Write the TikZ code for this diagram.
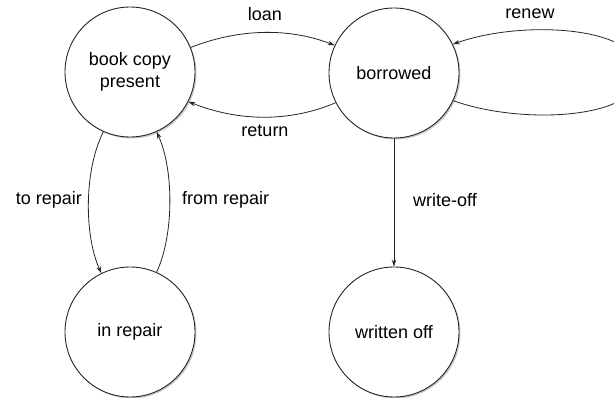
\documentclass[tikz,border=0pt]{standalone}
\usepackage{fontspec}
\setmainfont{Liberation Sans}
\usetikzlibrary{arrows.meta,shadows}
\begin{document}
\begin{tikzpicture}[x=1pt,y=-1pt,
  state/.style={circle,draw=black!85,line width=0.9pt,fill=white,minimum size=130pt,inner sep=0pt,
    align=center,font=\fontsize{18}{22}\selectfont,
    drop shadow={shadow xshift=1.5pt,shadow yshift=-1.5pt,opacity=0.35,fill=black!60}},
  trans/.style={draw=black!85,line width=0.8pt,-{Stealth[length=7pt,width=4.5pt]}},
  lbl/.style={font=\fontsize{18}{22}\selectfont,inner sep=1pt}]
\clip (0,0) rectangle (614,398);
\fill[white] (0,0) rectangle (614,398);
\node[state] (A) at (130,72) {book copy\\present};
\node[state] (B) at (394,73) {borrowed};
\node[state] (C) at (130,332) {in repair};
\node[state] (D) at (394,332) {written off};
\draw[trans] (A.22) .. controls (240,28) and (290,28) .. (B.155);
\draw[trans] (B.207) .. controls (290,122) and (240,122) .. (A.-27);
\draw[trans] (B.-25) .. controls (520,125) and (640,120) .. (640,73)
  .. controls (640,25) and (520,20) .. (B.26);
\draw[trans] (A.-114) .. controls (84,170) and (84,235) .. (C.116);
\draw[trans] (C.66) .. controls (174,235) and (174,170) .. (A.-66);
\draw[trans] (B.south) -- (D.north);
\node[lbl] (l1) at (265,14) {loan};
\node[lbl] (l2) at (265,131) {return};
\node[lbl] (l3) at (530,14) {renew};
\node[lbl,anchor=east] (l4) at (83,200) {to repair};
\node[lbl,anchor=west] (l5) at (181,200) {from repair};
\node[lbl,anchor=west] (l6) at (412,200) {write-off};
\end{tikzpicture}
\end{document}
